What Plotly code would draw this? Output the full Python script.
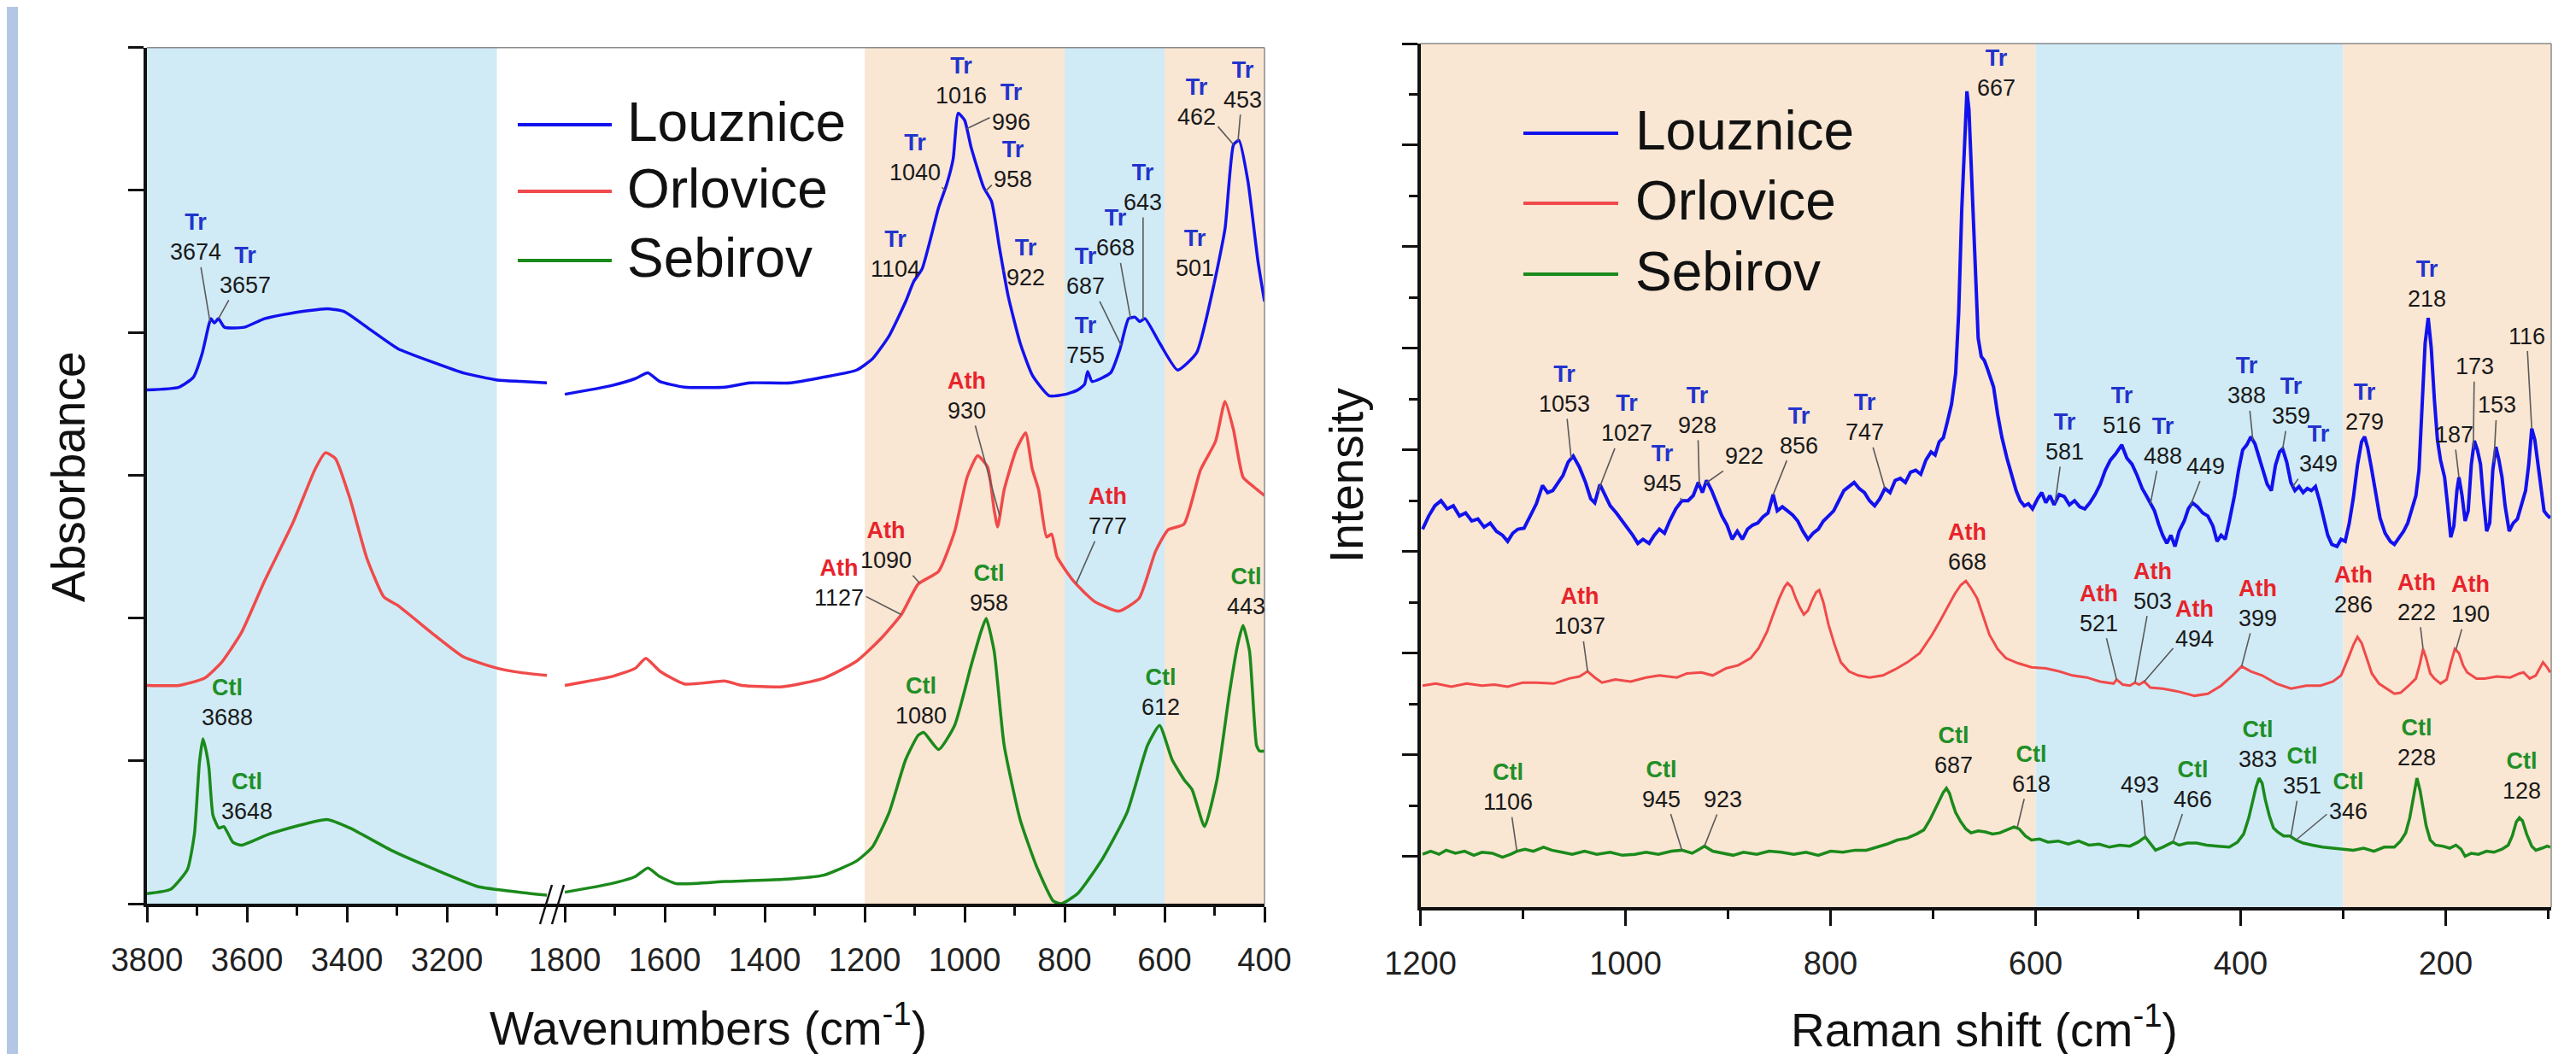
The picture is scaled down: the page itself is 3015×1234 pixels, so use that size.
import numpy as np
import plotly.graph_objects as go

W, H = 3015, 1234
def px(x): return x / W
def py(y): return 1 - y / H

# ---------------- DATA ----------------
series_names = ["Louznice", "Orlovice", "Sebirov"]

# FTIR (absorbance, stacked, arbitrary units) - high wavenumber segment
ftir_lz_hi_x = [3800, 3736, 3707, 3690, 3676, 3672, 3665, 3657, 3645, 3605, 3565, 3509, 3440, 3406, 3360, 3298, 3224, 3167, 3099, 3053, 3000]
ftir_lz_hi_y = [3.60, 3.62, 3.69, 3.85, 4.06, 4.10, 4.07, 4.10, 4.04, 4.04, 4.10, 4.14, 4.17, 4.15, 4.04, 3.89, 3.79, 3.72, 3.67, 3.66, 3.65]
ftir_or_hi_x = [3800, 3736, 3685, 3651, 3611, 3565, 3508, 3463, 3443, 3423, 3394, 3360, 3326, 3298, 3224, 3167, 3099, 3053, 3000]
ftir_or_hi_y = [1.53, 1.53, 1.58, 1.69, 1.90, 2.26, 2.67, 3.05, 3.16, 3.12, 2.84, 2.42, 2.15, 2.09, 1.88, 1.73, 1.65, 1.62, 1.60]
ftir_sb_hi_x = [3800, 3753, 3719, 3705, 3695, 3688, 3681, 3676, 3668, 3656, 3646, 3628, 3611, 3554, 3440, 3394, 3309, 3224, 3138, 3053, 3000]
ftir_sb_hi_y = [0.07, 0.10, 0.24, 0.49, 0.99, 1.155, 1.06, 0.95, 0.62, 0.53, 0.54, 0.43, 0.41, 0.49, 0.59, 0.53, 0.37, 0.24, 0.12, 0.08, 0.06]

# FTIR - low wavenumber segment
ftir_lz_lo_x = [1800, 1708, 1659, 1634, 1610, 1561, 1479, 1430, 1348, 1282, 1216, 1184, 1151, 1118, 1102, 1085, 1052, 1036, 1023, 1013, 1000, 987, 962, 946, 930, 913, 889, 864, 831, 798, 774, 760, 754, 745, 708, 689, 672, 659, 650, 639, 610, 574, 536, 503, 479, 462, 451, 433, 413, 400]
ftir_lz_lo_y = [3.57, 3.63, 3.68, 3.72, 3.66, 3.62, 3.62, 3.65, 3.65, 3.69, 3.74, 3.82, 3.98, 4.22, 4.36, 4.45, 4.88, 5.04, 5.22, 5.54, 5.49, 5.30, 5.02, 4.92, 4.59, 4.26, 3.93, 3.70, 3.56, 3.57, 3.60, 3.64, 3.73, 3.66, 3.72, 3.89, 4.10, 4.11, 4.08, 4.10, 3.93, 3.74, 3.86, 4.31, 4.73, 5.32, 5.35, 5.06, 4.50, 4.22]
ftir_or_lo_x = [1800, 1708, 1659, 1638, 1610, 1561, 1479, 1446, 1364, 1282, 1216, 1167, 1126, 1093, 1052, 1020, 995, 974, 954, 941, 934, 921, 897, 878, 865, 852, 836, 826, 815, 782, 741, 692, 651, 618, 593, 561, 528, 498, 479, 462, 443, 421, 400]
ftir_or_lo_y = [1.53, 1.59, 1.65, 1.72, 1.63, 1.54, 1.56, 1.53, 1.52, 1.58, 1.70, 1.86, 2.03, 2.24, 2.33, 2.61, 2.99, 3.14, 3.06, 2.76, 2.64, 2.90, 3.18, 3.30, 3.05, 2.90, 2.57, 2.59, 2.43, 2.26, 2.12, 2.05, 2.14, 2.47, 2.62, 2.66, 3.04, 3.24, 3.52, 3.32, 2.99, 2.92, 2.86]
ftir_sb_lo_x = [1800, 1708, 1659, 1634, 1610, 1577, 1479, 1364, 1282, 1216, 1184, 1151, 1118, 1093, 1082, 1052, 1020, 987, 967, 957, 941, 921, 889, 856, 823, 807, 774, 725, 675, 634, 610, 585, 561, 545, 520, 495, 470, 454, 443, 430, 416, 410, 400]
ftir_sb_lo_y = [0.08, 0.14, 0.19, 0.25, 0.19, 0.14, 0.155, 0.17, 0.20, 0.30, 0.40, 0.64, 1.01, 1.18, 1.20, 1.08, 1.25, 1.67, 1.91, 2.00, 1.77, 1.11, 0.59, 0.26, 0.02, 0.00, 0.07, 0.31, 0.64, 1.11, 1.25, 1.01, 0.87, 0.80, 0.54, 0.87, 1.48, 1.81, 1.95, 1.77, 1.11, 1.07, 1.07]

# Raman (intensity, stacked, arbitrary units)
raman_lz_x = [1198, 1192, 1186, 1180, 1174, 1168, 1162, 1156, 1150, 1144, 1138, 1132, 1126, 1120, 1115, 1110, 1105, 1099, 1093, 1087, 1081, 1076, 1071, 1066, 1061, 1056, 1051, 1045, 1039, 1034, 1030, 1025, 1020, 1015, 1009, 1003, 998, 993, 988, 983, 977, 972, 967, 962, 957, 951, 945, 939, 934, 929, 925, 921, 916, 911, 906, 901, 896, 891, 886, 881, 876, 871, 866, 861, 856, 852, 847, 842, 837, 832, 827, 822, 817, 812, 807, 802, 797, 792, 787, 782, 777, 772, 767, 762, 757, 752, 747, 742, 737, 732, 727, 722, 717, 712, 707, 702, 698, 694, 690, 686, 682, 678, 675, 672, 669, 667, 665, 662, 659, 656, 653, 650, 647, 644, 641, 637, 633, 628, 623, 619, 615, 611, 607, 603, 598, 594, 590, 586, 582, 577, 572, 567, 562, 557, 552, 547, 542, 537, 532, 527, 522, 516, 511, 506, 501, 496, 492, 488, 484, 480, 476, 472, 468, 464, 460, 455, 451, 447, 442, 437, 432, 427, 423, 419, 415, 411, 406, 402, 398, 394, 390, 386, 382, 378, 374, 370, 366, 362, 359, 355, 351, 347, 343, 339, 335, 331, 327, 323, 319, 315, 311, 306, 302, 298, 294, 290, 286, 282, 279, 276, 272, 268, 264, 259, 254, 250, 245, 241, 237, 233, 229, 226, 223, 220, 217, 214, 211, 208, 205, 201, 198, 195, 192, 189, 187, 184, 181, 178, 175, 172, 169, 166, 163, 160, 157, 154, 151, 148, 145, 142, 138, 134, 130, 126, 122, 119, 116, 113, 110, 107, 104, 101, 98]
raman_lz_y = [3.72, 3.85, 3.95, 4.00, 3.92, 3.95, 3.85, 3.88, 3.80, 3.82, 3.74, 3.78, 3.70, 3.66, 3.60, 3.68, 3.72, 3.73, 3.85, 3.97, 4.15, 4.08, 4.10, 4.18, 4.25, 4.38, 4.44, 4.33, 4.18, 4.02, 3.98, 4.16, 4.05, 3.95, 3.88, 3.80, 3.72, 3.66, 3.58, 3.62, 3.58, 3.66, 3.72, 3.68, 3.80, 3.92, 4.00, 4.00, 4.05, 4.18, 4.08, 4.20, 4.10, 3.98, 3.85, 3.76, 3.62, 3.70, 3.62, 3.72, 3.76, 3.78, 3.84, 3.88, 4.06, 3.90, 3.94, 3.90, 3.86, 3.80, 3.70, 3.62, 3.68, 3.72, 3.80, 3.85, 3.90, 4.00, 4.10, 4.14, 4.18, 4.12, 4.08, 4.00, 3.95, 4.02, 4.12, 4.08, 4.20, 4.22, 4.18, 4.28, 4.30, 4.26, 4.40, 4.48, 4.45, 4.58, 4.62, 4.78, 4.95, 5.25, 5.85, 6.87, 7.70, 8.03, 7.85, 7.10, 6.20, 5.60, 5.42, 5.38, 5.30, 5.20, 5.12, 4.85, 4.63, 4.42, 4.25, 4.10, 4.00, 3.95, 3.97, 3.92, 4.02, 4.08, 3.98, 4.05, 3.96, 4.06, 4.04, 3.96, 4.00, 3.94, 3.92, 3.98, 4.06, 4.16, 4.30, 4.40, 4.46, 4.55, 4.42, 4.36, 4.25, 4.12, 4.05, 3.97, 3.90, 3.77, 3.66, 3.58, 3.66, 3.55, 3.70, 3.80, 3.92, 3.98, 3.94, 3.88, 3.85, 3.75, 3.60, 3.66, 3.62, 3.80, 4.05, 4.30, 4.50, 4.55, 4.63, 4.56, 4.42, 4.30, 4.16, 4.10, 4.35, 4.48, 4.51, 4.38, 4.18, 4.10, 4.14, 4.08, 4.12, 4.10, 4.14, 4.00, 3.83, 3.66, 3.57, 3.55, 3.62, 3.60, 3.78, 4.03, 4.35, 4.58, 4.63, 4.52, 4.30, 4.05, 3.83, 3.68, 3.60, 3.57, 3.65, 3.70, 3.78, 3.92, 4.05, 4.30, 4.90, 5.55, 5.80, 5.50, 5.00, 4.60, 4.40, 4.23, 3.95, 3.64, 3.75, 4.10, 4.23, 4.05, 3.80, 3.90, 4.35, 4.59, 4.50, 4.36, 4.00, 3.70, 3.78, 4.30, 4.53, 4.40, 4.23, 3.95, 3.70, 3.78, 3.82, 3.95, 4.10, 4.35, 4.71, 4.60, 4.36, 4.10, 3.90, 3.86, 3.83]
raman_or_x = [1198, 1185, 1170, 1155, 1140, 1128, 1115, 1100, 1087, 1070, 1055, 1045, 1037, 1030, 1023, 1010, 995, 980, 967, 950, 940, 926, 915, 902, 890, 878, 870, 862, 856, 850, 845, 842, 838, 834, 830, 826, 822, 818, 814, 811, 807, 802, 796, 790, 782, 773, 762, 749, 737, 725, 713, 701, 693, 685, 679, 673, 668, 663, 657, 651, 645, 637, 629, 617, 604, 590, 577, 564, 550, 537, 524, 521, 515, 508, 503, 499, 494, 488, 476, 460, 445, 432, 419, 408, 399, 390, 379, 365, 351, 336, 322, 310, 302, 295, 290, 286, 282, 277, 272, 265, 258, 250, 244, 236, 229, 225, 222, 219, 215, 211, 205, 199, 195, 191, 187, 183, 179, 170, 162, 150, 137, 128, 124, 118, 112, 108, 105, 101, 98]
raman_or_y = [2.18, 2.20, 2.17, 2.20, 2.18, 2.19, 2.17, 2.21, 2.21, 2.20, 2.25, 2.27, 2.32, 2.26, 2.21, 2.24, 2.22, 2.26, 2.28, 2.26, 2.30, 2.31, 2.28, 2.35, 2.38, 2.45, 2.55, 2.71, 2.88, 3.04, 3.15, 3.19, 3.15, 3.04, 2.95, 2.88, 2.92, 3.02, 3.10, 3.12, 3.00, 2.78, 2.58, 2.41, 2.32, 2.28, 2.26, 2.28, 2.34, 2.41, 2.50, 2.68, 2.82, 2.97, 3.08, 3.17, 3.21, 3.14, 3.04, 2.86, 2.68, 2.54, 2.45, 2.40, 2.36, 2.35, 2.32, 2.28, 2.26, 2.22, 2.20, 2.24, 2.19, 2.18, 2.21, 2.19, 2.22, 2.16, 2.15, 2.12, 2.08, 2.10, 2.18, 2.28, 2.37, 2.32, 2.28, 2.20, 2.15, 2.18, 2.18, 2.22, 2.28, 2.45, 2.58, 2.66, 2.60, 2.45, 2.30, 2.20, 2.15, 2.10, 2.11, 2.18, 2.25, 2.40, 2.54, 2.45, 2.30, 2.25, 2.20, 2.24, 2.40, 2.54, 2.50, 2.38, 2.31, 2.25, 2.25, 2.27, 2.26, 2.30, 2.31, 2.25, 2.28, 2.36, 2.41, 2.36, 2.31]
raman_sb_x = [1198, 1190, 1182, 1175, 1166, 1157, 1148, 1140, 1130, 1120, 1112, 1106, 1098, 1090, 1080, 1072, 1062, 1052, 1040, 1028, 1015, 1003, 991, 980, 968, 955, 945, 935, 928, 923, 915, 905, 895, 885, 872, 860, 848, 836, 824, 812, 800, 788, 776, 765, 755, 745, 735, 725, 716, 709, 703, 697, 693, 690, 687, 684, 681, 678, 673, 668, 663, 656, 649, 642, 635, 628, 621, 616, 610, 604, 596, 588, 578, 568, 558, 548, 538, 528, 518, 508, 500, 493, 488, 483, 476, 470, 466, 460, 452, 443, 433, 422, 411, 403, 397, 392, 388, 385, 382, 379, 376, 372, 368, 364, 358, 352, 346, 339, 330, 320, 310, 300, 290, 280, 270, 260, 250, 244, 239, 235, 231, 228, 225, 222, 219, 215, 210, 203, 196, 190, 185, 181, 175, 168, 160, 153, 145, 139, 135, 131, 128, 125, 121, 116, 112, 106, 101, 98]
raman_sb_y = [0.52, 0.55, 0.52, 0.56, 0.53, 0.55, 0.51, 0.54, 0.53, 0.49, 0.52, 0.55, 0.57, 0.55, 0.59, 0.56, 0.54, 0.52, 0.55, 0.52, 0.54, 0.51, 0.52, 0.54, 0.52, 0.55, 0.56, 0.53, 0.57, 0.60, 0.55, 0.53, 0.51, 0.54, 0.52, 0.55, 0.54, 0.52, 0.54, 0.51, 0.55, 0.54, 0.56, 0.56, 0.59, 0.62, 0.66, 0.68, 0.72, 0.76, 0.86, 0.98, 1.06, 1.13, 1.17, 1.12, 1.02, 0.93, 0.84, 0.77, 0.73, 0.75, 0.74, 0.72, 0.73, 0.76, 0.79, 0.77, 0.70, 0.66, 0.67, 0.64, 0.65, 0.62, 0.65, 0.61, 0.62, 0.59, 0.61, 0.60, 0.64, 0.69, 0.62, 0.56, 0.59, 0.62, 0.64, 0.61, 0.63, 0.63, 0.61, 0.60, 0.59, 0.64, 0.72, 0.88, 1.06, 1.18, 1.27, 1.22, 1.06, 0.90, 0.78, 0.74, 0.70, 0.70, 0.66, 0.63, 0.61, 0.59, 0.58, 0.57, 0.56, 0.58, 0.55, 0.59, 0.59, 0.65, 0.73, 0.88, 1.10, 1.27, 1.15, 0.99, 0.80, 0.66, 0.61, 0.60, 0.58, 0.61, 0.57, 0.50, 0.53, 0.52, 0.55, 0.54, 0.57, 0.61, 0.70, 0.84, 0.88, 0.85, 0.72, 0.60, 0.56, 0.58, 0.60, 0.59]

# Band assignments (label, peak value text)
ftir_peaks_lz = [("Tr", "3674"), ("Tr", "3657"), ("Tr", "1104"), ("Tr", "1040"), ("Tr", "1016"), ("Tr", "996"), ("Tr", "958"), ("Tr", "922"), ("Tr", "755"), ("Tr", "687"), ("Tr", "668"), ("Tr", "643"), ("Tr", "501"), ("Tr", "462"), ("Tr", "453")]
ftir_peaks_or = [("Ath", "930"), ("Ath", "1090"), ("Ath", "1127"), ("Ath", "777")]
ftir_peaks_sb = [("Ctl", "3688"), ("Ctl", "3648"), ("Ctl", "1080"), ("Ctl", "958"), ("Ctl", "612"), ("Ctl", "443")]
raman_peaks_lz = [("Tr", "1053"), ("Tr", "1027"), ("Tr", "945"), ("Tr", "928"), ("", "922"), ("Tr", "856"), ("Tr", "747"), ("Tr", "667"), ("Tr", "581"), ("Tr", "516"), ("Tr", "488"), ("", "449"), ("Tr", "388"), ("Tr", "359"), ("Tr", "349"), ("Tr", "279"), ("Tr", "218"), ("", "187"), ("", "173"), ("", "153"), ("", "116")]
raman_peaks_or = [("Ath", "668"), ("Ath", "1037"), ("Ath", "521"), ("Ath", "503"), ("Ath", "494"), ("Ath", "399"), ("Ath", "286"), ("Ath", "222"), ("Ath", "190")]
raman_peaks_sb = [("Ctl", "1106"), ("Ctl", "945"), ("", "923"), ("Ctl", "687"), ("Ctl", "618"), ("", "493"), ("Ctl", "466"), ("Ctl", "383"), ("Ctl", "351"), ("Ctl", "346"), ("Ctl", "228"), ("Ctl", "128")]

# ---------------- LABEL PLACEMENT (text x, text y, leader?, axis) ----------------
ftir_pos_lz = [(3702, 4.67, True, "x"), (3603, 4.44, True, "x"), (1138, 4.55, True, "x2"), (1100, 5.23, True, "x2"),
               (1007, 5.77, False, "x2"), (907, 5.58, True, "x2"), (903, 5.18, True, "x2"), (877, 4.49, True, "x2"),
               (759, 3.95, False, "x2"), (759, 4.43, True, "x2"), (699, 4.70, True, "x2"), (643, 5.02, True, "x2"),
               (539, 4.56, True, "x2"), (536, 5.62, True, "x2"), (443, 5.74, True, "x2")]
ftir_pos_or = [(995, 3.56, True, "x2"), (1157, 2.51, True, "x2"), (1251, 2.25, True, "x2"), (713, 2.75, True, "x2")]
ftir_pos_sb = [(3639, 1.41, False, "x"), (3600, 0.75, False, "x"), (1088, 1.42, False, "x2"), (951, 2.21, False, "x2"),
               (608, 1.48, False, "x2"), (437, 2.19, False, "x2")]
raman_pos_lz = [(1060, 5.10, True), (999, 4.81, True), (964, 4.32, True), (930, 4.89, True), (884, 4.44, True),
                (831, 4.69, True), (767, 4.82, True), (638, 8.21, False), (572, 4.63, True), (516, 4.89, False),
                (476, 4.59, True), (434, 4.34, True), (394, 5.18, True), (351, 4.98, True), (324, 4.51, True),
                (279, 4.92, False), (218, 6.13, False), (192, 4.65, True), (172, 5.32, True), (150, 4.94, True),
                (121, 5.62, True)]
raman_pos_or = [(667, 3.54, False), (1045, 2.91, True), (538, 2.94, True), (486, 3.16, True), (445, 2.79, True),
                (383, 2.99, True), (290, 3.12, False), (228, 3.05, True), (176, 3.03, True)]
raman_pos_sb = [(1115, 1.18, True), (965, 1.21, True), (905, 1.06, True), (680, 1.54, False), (604, 1.36, True),
                (498, 1.20, True), (447, 1.21, True), (383, 1.60, False), (340, 1.34, True), (295, 1.09, True),
                (228, 1.62, False), (126, 1.29, False)]

FONT = "Liberation Sans, Arial, sans-serif"
LINE_COL = {"Louznice": "#1212ee", "Orlovice": "#f04a4a", "Sebirov": "#1b8a1b"}
LABEL_COL = {"Tr": "#2233cc", "Ath": "#e8232b", "Ctl": "#1f8f27"}
BAND_BLUE = "#d0ebf6"
BAND_PEACH = "#f9e6d3"

fig = go.Figure()

def add_line(x, y, xa, ya, color, width, shape):
    line = dict(color=color, width=width, shape=shape)
    if shape == "spline":
        line["smoothing"] = 0.5
    fig.add_trace(go.Scatter(x=x, y=y, mode="lines", xaxis=xa, yaxis=ya, line=line,
                             showlegend=False, hoverinfo="skip"))

add_line(ftir_lz_hi_x, ftir_lz_hi_y, "x", "y", LINE_COL["Louznice"], 3.5, "spline")
add_line(ftir_or_hi_x, ftir_or_hi_y, "x", "y", LINE_COL["Orlovice"], 3.5, "spline")
add_line(ftir_sb_hi_x, ftir_sb_hi_y, "x", "y", LINE_COL["Sebirov"], 3.5, "spline")
add_line(ftir_lz_lo_x, ftir_lz_lo_y, "x2", "y", LINE_COL["Louznice"], 3.5, "spline")
add_line(ftir_or_lo_x, ftir_or_lo_y, "x2", "y", LINE_COL["Orlovice"], 3.5, "spline")
add_line(ftir_sb_lo_x, ftir_sb_lo_y, "x2", "y", LINE_COL["Sebirov"], 3.5, "spline")
add_line(raman_lz_x, raman_lz_y, "x3", "y2", LINE_COL["Louznice"], 4, "linear")
add_line(raman_or_x, raman_or_y, "x3", "y2", LINE_COL["Orlovice"], 3, "linear")
add_line(raman_sb_x, raman_sb_y, "x3", "y2", LINE_COL["Sebirov"], 3.5, "linear")

def curve_at(xs, ys, w):
    xs = np.asarray(xs, float); ys = np.asarray(ys, float)
    order = np.argsort(xs)
    return float(np.interp(w, xs[order], ys[order]))

def add_notes(peaks, positions, curves, ya):
    for (label, num), pos in zip(peaks, positions):
        tx, ty, leader = pos[0], pos[1], pos[2]
        xa = pos[3] if len(pos) > 3 else "x3"
        xs, ys = curves[xa]
        txt = ""
        if label:
            txt += f'<b><span style="color:{LABEL_COL[label]}">{label}</span></b><br>'
        txt += f'<span style="color:#1a1a1a">{num}</span>'
        font = dict(family=FONT, size=27, color="#1a1a1a")
        if leader:
            w = float(num)
            fig.add_annotation(x=w, y=curve_at(xs, ys, w), xref=xa, yref=ya, ax=tx, ay=ty,
                               axref=xa, ayref=ya, text=txt, showarrow=True, arrowhead=0,
                               arrowwidth=1.6, arrowcolor="#5a5a5a", standoff=0, font=font,
                               borderpad=2)
        else:
            fig.add_annotation(x=tx, y=ty, xref=xa, yref=ya, text=txt, showarrow=False, font=font)

add_notes(ftir_peaks_lz, ftir_pos_lz, {"x": (ftir_lz_hi_x, ftir_lz_hi_y), "x2": (ftir_lz_lo_x, ftir_lz_lo_y)}, "y")
add_notes(ftir_peaks_or, ftir_pos_or, {"x": (ftir_or_hi_x, ftir_or_hi_y), "x2": (ftir_or_lo_x, ftir_or_lo_y)}, "y")
add_notes(ftir_peaks_sb, ftir_pos_sb, {"x": (ftir_sb_hi_x, ftir_sb_hi_y), "x2": (ftir_sb_lo_x, ftir_sb_lo_y)}, "y")
add_notes(raman_peaks_lz, raman_pos_lz, {"x3": (raman_lz_x, raman_lz_y)}, "y2")
add_notes(raman_peaks_or, raman_pos_or, {"x3": (raman_or_x, raman_or_y)}, "y2")
add_notes(raman_peaks_sb, raman_pos_sb, {"x3": (raman_sb_x, raman_sb_y)}, "y2")

# ---------------- AXES ----------------
ax_common = dict(showgrid=False, zeroline=False, showline=True, linecolor="#111", linewidth=3.5,
                 ticks="outside", tickcolor="#111", tickwidth=3, ticklen=18, automargin=False,
                 tickfont=dict(family=FONT, size=38, color="#222"))
minor_common = dict(ticks="outside", ticklen=10, tickwidth=3, tickcolor="#111", showgrid=False)

fig.update_layout(
    template="none",
    width=W, height=H, margin=dict(l=0, r=0, t=0, b=0, pad=0, autoexpand=False),
    paper_bgcolor="white", plot_bgcolor="white", showlegend=False,
    xaxis=dict(domain=[px(164), px(642)], range=[3800, 2983], anchor="y", tickmode="array",
               tickvals=[3800, 3600, 3400, 3200], ticklabelstandoff=12,
               minor=dict(tickvals=[3700, 3500, 3300, 3100], **minor_common), **ax_common),
    xaxis2=dict(domain=[px(642), px(1472)], range=[1819, 400], anchor="y", tickmode="array",
                tickvals=[1800, 1600, 1400, 1200, 1000, 800, 600, 400], ticklabelstandoff=12,
                minor=dict(tickvals=[1700, 1500, 1300, 1100, 900, 700, 500], **minor_common), **ax_common),
    yaxis=dict(domain=[py(1050), py(47.7)], range=[0, 6], anchor="x", tickmode="array",
               tickvals=[0, 1, 2, 3, 4, 5, 6], showticklabels=False, **ax_common),
    xaxis3=dict(domain=[px(1654.6), px(2978)], range=[1200, 97], anchor="y2", tickmode="array",
                tickvals=[1200, 1000, 800, 600, 400, 200], ticklabelstandoff=12,
                minor=dict(tickvals=[1100, 900, 700, 500, 300, 100], **minor_common), **ax_common),
    yaxis2=dict(domain=[py(1054), py(43)], range=[0, 8.5], anchor="x3", tickmode="array",
                tickvals=[0.5, 1.5, 2.5, 3.5, 4.5, 5.5, 6.5, 7.5, 8.5], showticklabels=False,
                minor=dict(tickvals=[1, 2, 3, 4, 5, 6, 7, 8], **minor_common), **ax_common),
)

# ---------------- BACKGROUND BANDS ----------------
bands = [("x", "y", 3800, 3100, 0, 6, BAND_BLUE),
         ("x2", "y", 1200, 800, 0, 6, BAND_PEACH),
         ("x2", "y", 800, 600, 0, 6, BAND_BLUE),
         ("x2", "y", 600, 400, 0, 6, BAND_PEACH),
         ("x3", "y2", 1200, 600, 0, 8.5, BAND_PEACH),
         ("x3", "y2", 600, 300, 0, 8.5, BAND_BLUE),
         ("x3", "y2", 300, 97, 0, 8.5, BAND_PEACH)]
for xa, ya, x0, x1, y0, y1, col in bands:
    fig.add_shape(type="rect", xref=xa, yref=ya, x0=x0, x1=x1, y0=y0, y1=y1,
                  fillcolor=col, line=dict(width=0), layer="below")

# left page strip
fig.add_shape(type="rect", xref="paper", yref="paper", x0=0, x1=px(13), y0=0, y1=1,
              fillcolor="#b3c6e6", line=dict(width=0), layer="below")

# thin frame lines (top / right)
for (x0, y0, x1, y1) in [(164, 47.7, 1472, 47.7), (1472, 47.7, 1472, 1050),
                         (1654.6, 43, 2978, 43), (2978, 43, 2978, 1054)]:
    fig.add_shape(type="line", xref="paper", yref="paper", x0=px(x0), y0=py(y0), x1=px(x1), y1=py(y1),
                  line=dict(color="#8a8a8a", width=1.5))

# axis break marks
for xb in (624, 638):
    fig.add_shape(type="line", xref="paper", yref="paper", x0=px(xb), y0=py(1074), x1=px(xb + 14), y1=py(1028),
                  line=dict(color="#111", width=2.5))

# ---------------- LEGENDS ----------------
legend_rows = [(598, 708, 724, [138, 216, 297]), (1775, 1886, 1904, [148, 230, 313])]
for x0, x1, xt, ys in legend_rows:
    for name, yy in zip(series_names, ys):
        fig.add_shape(type="line", xref="paper", yref="paper", x0=px(x0), x1=px(x1), y0=py(yy), y1=py(yy),
                      line=dict(color=LINE_COL[name], width=4))
        fig.add_annotation(x=px(xt), y=py(yy - 3), xref="paper", yref="paper", text=name, showarrow=False,
                           xanchor="left", yanchor="middle", font=dict(family=FONT, size=64, color="#111"))

# ---------------- AXIS TITLES ----------------
titles = [("Absorbance", 72, 550, -90), ("Wavenumbers (cm<sup>-1</sup>)", 821, 1192, 0),
          ("Intensity", 1568, 549, -90), ("Raman shift (cm<sup>-1</sup>)", 2314, 1194, 0)]
for t, x, y, ang in titles:
    fig.add_annotation(x=px(x), y=py(y), xref="paper", yref="paper", text=t, showarrow=False,
                       textangle=ang, xanchor="center", yanchor="middle",
                       font=dict(family=FONT, size=55, color="#111"))

fig.write_html("out.html")
